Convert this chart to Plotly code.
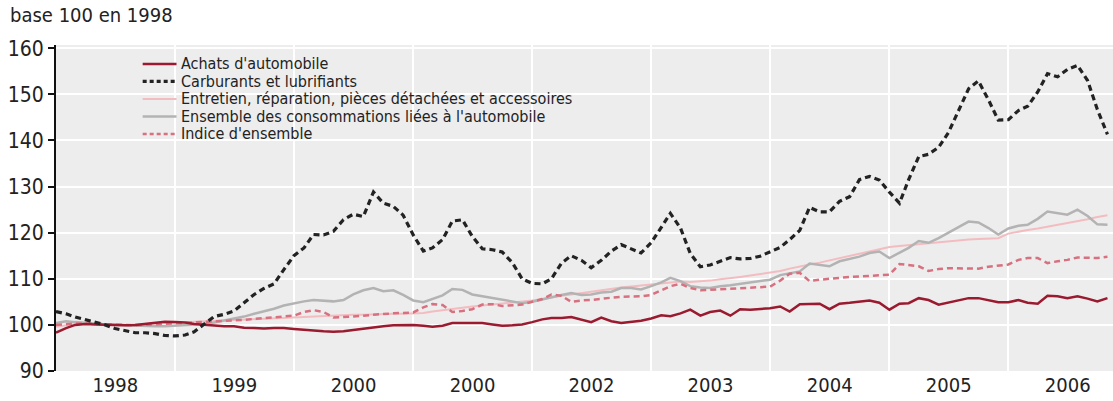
import pandas as pd
import plotly.graph_objects as go

FONT = "DejaVu Sans Condensed, Liberation Sans Narrow, Arial Narrow, sans-serif"
TEXT = "#222222"

# ---------------------------------------------------------------------------
# Données mensuelles, base 100 en 1998 (janvier 1998 -> novembre 2006)
# ---------------------------------------------------------------------------
mois = pd.date_range("1998-01-01", periods=107, freq="MS")

achats = [
    98.3, 99.3, 100.0, 100.2, 100.1, 100.0, 100.0, 99.9, 100.0, 100.2,
    100.5, 100.7, 100.6, 100.5, 100.2, 100.0, 99.8, 99.7, 99.7, 99.4,
    99.3, 99.2, 99.3, 99.3, 99.1, 98.9, 98.8, 98.6, 98.5, 98.6,
    98.9, 99.2, 99.4, 99.7, 99.9, 100.0, 100.0, 99.8, 99.6, 99.8,
    100.4, 100.4, 100.4, 100.4, 100.1, 99.8, 99.9, 100.1, 100.6, 101.2,
    101.5, 101.5, 101.7, 101.2, 100.6, 101.6, 100.8, 100.4, 100.6, 100.9,
    101.4, 102.1, 101.9, 102.5, 103.3, 102.0, 102.8, 103.1, 102.0, 103.4,
    103.3, 103.5, 103.6, 104.0, 102.9, 104.5, 104.6, 104.6, 103.4, 104.6,
    104.8, 105.0, 105.3, 104.8, 103.3, 104.6, 104.7, 105.8, 105.4, 104.4,
    104.9, 105.4, 105.8, 105.8, 105.3, 104.9, 104.9, 105.4, 104.8, 104.6,
    106.3, 106.2, 105.8, 106.2, 105.7, 105.1, 105.8,
]

carburants = [
    102.9, 102.4, 101.7, 101.1, 100.5, 100.0, 99.2, 98.7, 98.3, 98.3,
    98.1, 97.7, 97.6, 97.8, 98.5, 100.2, 101.8, 102.3, 103.0, 104.8,
    106.6, 107.9, 108.9, 112.0, 115.0, 116.7, 119.6, 119.5, 120.3, 122.8,
    124.0, 123.5, 128.8, 126.4, 125.7, 123.8, 119.5, 116.0, 116.7, 118.5,
    122.5, 122.8, 119.2, 116.5, 116.3, 115.8, 113.5, 110.0, 109.0, 108.9,
    110.0, 113.4, 115.0, 114.0, 112.4, 114.0, 116.0, 117.4, 116.5, 115.6,
    117.8, 121.2, 124.2, 121.0, 115.5, 112.6, 113.0, 113.8, 114.6, 114.3,
    114.4, 114.9, 115.8, 116.8, 118.5, 120.5, 125.5, 124.5, 124.5, 126.8,
    127.8, 131.5, 132.2, 131.4, 128.8, 126.4, 131.5, 136.5, 137.0, 138.5,
    141.7, 146.3, 151.2, 152.9, 148.8, 144.4, 144.5, 146.5, 147.4, 150.5,
    154.5, 153.8, 155.4, 156.3, 153.0, 146.7, 141.3,
]

entretien = [
    99.6, 100.0, 100.2, 100.3, 100.2, 100.1, 100.0, 100.0, 100.1, 100.2,
    100.3, 100.4, 100.5, 100.6, 100.6, 100.8, 100.9, 101.0, 101.1, 101.2,
    101.3, 101.4, 101.5, 101.6, 101.7, 101.8, 101.9, 102.0, 102.0, 102.1,
    102.2, 102.2, 102.3, 102.3, 102.4, 102.4, 102.5, 102.6, 102.9, 103.2,
    103.5, 103.7, 104.0, 104.2, 104.4, 104.6, 104.8, 105.0, 105.3, 105.6,
    106.0, 106.3, 106.6, 106.9, 107.3, 107.6, 107.9, 108.1, 108.3, 108.5,
    108.8, 109.0, 109.2, 109.4, 109.3, 109.4, 109.6, 109.9, 110.1, 110.4,
    110.7, 111.0, 111.3, 111.7, 112.2, 112.7, 113.1, 113.5, 114.0, 114.5,
    114.9, 115.4, 115.9, 116.4, 116.9, 117.1, 117.3, 117.5, 117.7, 118.0,
    118.2, 118.4, 118.5, 118.6, 118.7, 118.8, 119.8, 120.3, 120.6, 120.9,
    121.3, 121.7, 122.0, 122.4, 122.9, 123.4, 123.8,
]

ensemble_auto = [
    100.4, 100.8, 100.6, 100.5, 100.3, 100.1, 100.0, 99.9, 99.8, 99.7,
    99.7, 99.7, 99.8, 99.9, 100.0, 100.2, 100.5, 100.9, 101.3, 101.8,
    102.4, 102.9, 103.5, 104.2, 104.7, 105.1, 105.4, 105.3, 105.1, 105.4,
    106.6, 107.5, 108.0, 107.3, 107.5, 106.5, 105.3, 104.9, 105.6, 106.4,
    107.8, 107.6, 106.6, 106.2, 105.9, 105.5, 105.1, 104.7, 105.0, 105.5,
    106.1, 106.5, 106.9, 106.5, 106.6, 107.0, 107.2, 108.0, 108.0, 107.7,
    108.4, 109.2, 110.2, 109.5, 108.4, 108.1, 108.0, 108.4, 108.6, 108.9,
    109.1, 109.4, 109.8, 110.8, 111.2, 111.6, 113.3, 113.0, 112.7, 113.8,
    114.3, 114.8, 115.6, 115.9, 114.5, 115.6, 116.7, 118.2, 117.8, 118.8,
    119.9, 121.2, 122.4, 122.2, 121.0, 119.6, 120.9, 121.5, 121.7, 123.0,
    124.6, 124.2, 123.9, 125.0, 123.6, 121.8, 121.7,
]

indice = [
    100.0, 100.2, 100.3, 100.3, 100.2, 100.1, 100.0, 99.9, 99.9, 100.0,
    100.1, 100.3, 100.4, 100.4, 100.6, 100.7, 100.8, 100.9, 101.0, 101.1,
    101.3, 101.5, 101.6, 101.8, 102.0, 102.8, 103.2, 102.8, 101.6, 101.7,
    101.8, 102.0, 102.2, 102.4, 102.5, 102.6, 102.7, 103.8, 104.5, 104.3,
    102.8, 103.0, 103.4, 104.4, 104.5, 104.1, 104.2, 104.4, 105.0, 105.6,
    106.6, 106.3, 105.0, 105.3, 105.4, 105.7, 105.9, 106.1, 106.2, 106.2,
    106.5, 107.5, 108.4, 108.9, 108.0, 107.5, 107.6, 107.7, 107.8, 107.9,
    108.0, 108.1, 108.3, 109.6, 111.1, 111.3, 109.5, 109.8, 110.0, 110.3,
    110.4, 110.5, 110.6, 110.7, 110.9, 113.2, 113.0, 112.7, 111.7, 112.1,
    112.3, 112.3, 112.2, 112.2, 112.6, 112.8, 113.1, 114.1, 114.5, 114.5,
    113.4, 113.8, 114.1, 114.6, 114.6, 114.5, 114.8,
]

# étiquettes d'années (telles qu'imprimées sur l'original)
annees = ["1998", "1999", "2000", "2000", "2002", "2003", "2004", "2005", "2006"]
pos_annees = [f"{1998 + i}-07-02" for i in range(len(annees))]

# ---------------------------------------------------------------------------
# Séries : (nom, valeurs, couleur, épaisseur, tirets)
# ---------------------------------------------------------------------------
series = [
    ("Achats d'automobile", achats, "#9a1a2f", 2.5, "solid"),
    ("Carburants et lubrifiants", carburants, "#222222", 3.2, "6px,4px"),
    ("Entretien, réparation, pièces détachées et accessoires", entretien, "#f3bcc0", 2, "solid"),
    ("Ensemble des consommations liées à l'automobile", ensemble_auto, "#b3b3b3", 2.5, "solid"),
    ("Indice d'ensemble", indice, "#d7707f", 2.5, "6px,4px"),
]
ordre_trace = [2, 3, 4, 0, 1]  # carburants au-dessus

fig = go.Figure()
for i in ordre_trace:
    nom, vals, couleur, ep, dash = series[i]
    fig.add_trace(go.Scatter(
        x=mois, y=vals, mode="lines", name=nom,
        line=dict(color=couleur, width=ep, dash=dash),
        showlegend=False,
    ))

# ── Légende dessinée à la main (interligne serré) ──────────────────────
leg_x0, leg_x1, leg_txt = 0.082, 0.114, 0.117
leg_y0, leg_dy = 0.942, 0.0537
for i, (nom, vals, couleur, ep, dash) in enumerate(series):
    yy = leg_y0 - i * leg_dy
    fig.add_shape(type="line", xref="paper", yref="paper",
                  x0=leg_x0, x1=leg_x1, y0=yy, y1=yy,
                  line=dict(color=couleur, width=ep, dash="4px,3px" if dash != "solid" else "solid"))
    fig.add_annotation(text=nom, xref="paper", yref="paper", x=leg_txt, y=yy,
                       xanchor="left", yanchor="middle", showarrow=False,
                       borderpad=0, font=dict(family=FONT, size=16, color=TEXT))

debut, fin = "1998-01-01", "2006-11-18"

fig.update_layout(
    width=1113, height=401,
    margin=dict(l=56, r=0, t=45, b=30, autoexpand=False),
    paper_bgcolor="white",
    plot_bgcolor="#ededed",
    font=dict(family=FONT, color=TEXT),
    title=dict(text="base 100 en 1998", xref="container", yref="container",
               x=0.009, y=0.962, xanchor="left", yanchor="middle",
               font=dict(family=FONT, size=20, color=TEXT)),
    xaxis=dict(
        type="date", range=[debut, fin], automargin=False,
        tickvals=pos_annees, ticktext=annees,
        showgrid=False, ticks="", showline=False, zeroline=False,
        tickfont=dict(family=FONT, size=20, color=TEXT),
        minor=dict(dtick="M12", tick0=debut, showgrid=True,
                   gridcolor="white", gridwidth=1.5, ticks=""),
    ),
    # axe horizontal tracé à 100 avec graduations annuelles
    xaxis2=dict(
        type="date", range=[debut, fin], overlaying="x", automargin=False,
        anchor="free", position=(100 - 90) / (160.7 - 90),
        showline=True, linecolor="#333333", linewidth=2,
        ticks="outside", ticklen=7, tickwidth=1.5, tickcolor="#333333",
        dtick="M12", tick0=debut, showticklabels=False, showgrid=False,
        layer="below traces",
    ),
    yaxis=dict(
        range=[90, 160.7], tickvals=[90, 100, 110, 120, 130, 140, 150, 160],
        automargin=False,
        showline=True, linecolor="#111111", linewidth=2,
        ticks="outside", ticklen=6, tickwidth=2, tickcolor="#111111",
        gridcolor="white", gridwidth=1.5, zeroline=False,
        tickfont=dict(family=FONT, size=21, color=TEXT),
    ),
)

# la page par défaut ajoute une marge de 8 px autour du graphique
fig.write_html("out.html", config={"displayModeBar": False},
               post_script="document.body.style.margin='0px';")
